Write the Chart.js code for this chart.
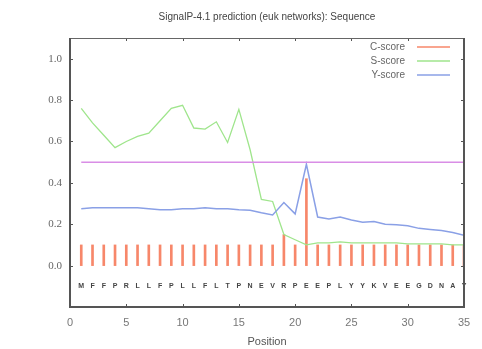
<!DOCTYPE html>
<html>
<head>
<meta charset="utf-8">
<script src="https://cdn.jsdelivr.net/npm/chart.js@4.4.0/dist/chart.umd.min.js"></script>
<style>
  html, body { margin: 0; padding: 0; background: #fff; }
  #wrap { width: 482px; height: 349px; }
</style>
</head>
<body>
<div id="wrap"><canvas id="chart"></canvas></div>
<script>
// values
const positions = [1, 2, 3, 4, 5, 6, 7, 8, 9, 10, 11, 12, 13, 14, 15, 16, 17, 18, 19, 20,
    21, 22, 23, 24, 25, 26, 27, 28, 29, 30, 31, 32, 33, 34, 35];
const sequence = ['M', 'F', 'F', 'P', 'R', 'L', 'L', 'F', 'P', 'L', 'L', 'F', 'L', 'T', 'P', 'N', 'E', 'V', 'R', 'P',
    'E', 'E', 'P', 'L', 'Y', 'Y', 'K', 'V', 'E', 'E', 'G', 'D', 'N', 'A', 'Y'];
const cScore = [0.1, 0.1, 0.1, 0.1, 0.1, 0.1, 0.1, 0.1, 0.1, 0.1, 0.1, 0.1, 0.1, 0.1, 0.1, 0.1, 0.1, 0.1, 0.15, 0.1,
    0.42, 0.1, 0.1, 0.1, 0.1, 0.1, 0.1, 0.1, 0.1, 0.1, 0.1, 0.1, 0.1, 0.1, 0.1];
const sScore = [0.76, 0.69, 0.63, 0.57, 0.6, 0.625, 0.64, 0.7, 0.76, 0.775, 0.665, 0.66, 0.695, 0.595, 0.755, 0.56, 0.32, 0.31, 0.15, 0.125,
    0.1, 0.11, 0.11, 0.115, 0.11, 0.11, 0.11, 0.11, 0.11, 0.105, 0.105, 0.105, 0.105, 0.1, 0.1];
const yScore = [0.275, 0.28, 0.28, 0.28, 0.28, 0.28, 0.275, 0.27, 0.27, 0.275, 0.275, 0.28, 0.275, 0.275, 0.27, 0.267, 0.255, 0.245, 0.305, 0.25,
    0.49, 0.235, 0.225, 0.235, 0.22, 0.21, 0.213, 0.2, 0.197, 0.193, 0.18, 0.175, 0.17, 0.16, 0.147];
const cutoff = 0.5;
const xTicks = [0, 5, 10, 15, 20, 25, 30, 35];
const yTicks = [0, 0.2, 0.4, 0.6, 0.8, 1.0];
const seqRow = -0.1;

const C_COLOR = '#f7876a';
const S_COLOR = '#9fe58c';
const Y_COLOR = '#8aa0e6';
const CUT_COLOR = '#d98ee6';

const pts = (vals) => vals.map((v, i) => ({ x: positions[i], y: v }));

// box, inward ticks, sequence letters and gnuplot-like legend
const decorations = {
    id: 'decorations',
    afterDatasetsDraw(chart) {
        const { ctx, chartArea: a, scales: { x, y } } = chart;
        ctx.save();

        // sequence letters
        ctx.fillStyle = '#444';
        ctx.font = 'bold 7px "Liberation Sans", sans-serif';
        ctx.textAlign = 'center';
        ctx.textBaseline = 'middle';
        sequence.forEach((aa, i) => {
            ctx.fillText(aa, x.getPixelForValue(positions[i]), y.getPixelForValue(seqRow));
        });

        // inward ticks
        ctx.strokeStyle = '#555';
        ctx.lineWidth = 1;
        ctx.beginPath();
        xTicks.forEach(t => {
            const px = Math.round(x.getPixelForValue(t)) + 0.5;
            ctx.moveTo(px, a.bottom); ctx.lineTo(px, a.bottom - 3);
            ctx.moveTo(px, a.top); ctx.lineTo(px, a.top + 3);
        });
        yTicks.forEach(t => {
            const py = Math.round(y.getPixelForValue(t)) + 0.5;
            ctx.moveTo(a.left, py); ctx.lineTo(a.left + 3, py);
            ctx.moveTo(a.right, py); ctx.lineTo(a.right - 3, py);
        });
        ctx.stroke();

        // frame
        ctx.strokeStyle = '#666';
        ctx.lineWidth = 1;
        ctx.strokeRect(a.left + 0.5, a.top + 0.5, a.right - a.left, a.bottom - a.top);
        ctx.strokeStyle = '#555';
        ctx.lineWidth = 2;
        ctx.beginPath();
        ctx.moveTo(a.left, a.top); ctx.lineTo(a.left, a.bottom); ctx.lineTo(a.right, a.bottom); ctx.lineTo(a.right, a.top);
        ctx.stroke();

        // legend
        const items = [['C-score', C_COLOR], ['S-score', S_COLOR], ['Y-score', Y_COLOR]];
        ctx.font = '10px "Liberation Sans", sans-serif';
        ctx.textAlign = 'right';
        items.forEach(([label, color], i) => {
            const ly = a.top + 9 + i * 14;
            ctx.fillStyle = '#666';
            ctx.fillText(label, a.right - 59, ly);
            ctx.strokeStyle = color;
            ctx.lineWidth = 1.5;
            ctx.beginPath();
            ctx.moveTo(a.right - 47, ly); ctx.lineTo(a.right - 14, ly);
            ctx.stroke();
        });
        ctx.restore();
    }
};

new Chart(document.getElementById('chart'), {
    data: {
        datasets: [
            {
                type: 'bar',
                label: 'C-score',
                data: pts(cScore),
                backgroundColor: C_COLOR,
                barThickness: 2,
                order: 3
            },
            {
                type: 'line',
                label: 'S-score',
                data: pts(sScore),
                borderColor: S_COLOR,
                borderWidth: 1.3,
                pointRadius: 0,
                tension: 0,
                order: 2
            },
            {
                type: 'line',
                label: 'Y-score',
                data: pts(yScore),
                borderColor: Y_COLOR,
                borderWidth: 1.5,
                pointRadius: 0,
                tension: 0,
                order: 1
            },
            {
                type: 'line',
                label: 'cutoff',
                data: [{ x: positions[0], y: cutoff }, { x: positions[positions.length - 1], y: cutoff }],
                borderColor: CUT_COLOR,
                borderWidth: 1.5,
                pointRadius: 0,
                order: 0
            }
        ]
    },
    options: {
        responsive: true,
        maintainAspectRatio: false,
        animation: false,
        layout: { padding: { top: 0, right: 18, bottom: 0, left: 0 } },
        plugins: {
            legend: { display: false },
            tooltip: { enabled: false },
            title: {
                display: true,
                text: 'SignalP-4.1 prediction (euk networks): Sequence',
                fullSize: false,
                color: '#444',
                font: { family: '"Liberation Sans", sans-serif', size: 10, weight: 'normal' },
                padding: { top: 11, bottom: 15 }
            }
        },
        scales: {
            x: {
                type: 'linear',
                min: 0,
                max: 35,
                offset: false,
                afterFit: (s) => { s.height = 42; },
                grid: { display: false, drawTicks: false },
                border: { display: false },
                afterBuildTicks: (s) => { s.ticks = xTicks.map(v => ({ value: v })); },
                ticks: {
                    color: '#777',
                    padding: 9,
                    font: { family: '"Liberation Sans", sans-serif', size: 11 },
                    callback: (v) => String(v)
                },
                title: {
                    display: true,
                    text: 'Position',
                    color: '#555',
                    padding: { top: 6, bottom: 0 },
                    font: { family: '"Liberation Sans", sans-serif', size: 11 }
                }
            },
            y: {
                type: 'linear',
                min: -0.2,
                max: 1.1,
                afterFit: (s) => { s.width = 70; },
                grid: { display: false, drawTicks: false },
                border: { display: false },
                afterBuildTicks: (s) => { s.ticks = yTicks.map(v => ({ value: v })); },
                ticks: {
                    color: '#666',
                    padding: 8,
                    font: { family: '"Liberation Serif", serif', size: 11 },
                    callback: (v) => v.toFixed(1)
                }
            }
        }
    },
    plugins: [decorations]
});
</script>
</body>
</html>
